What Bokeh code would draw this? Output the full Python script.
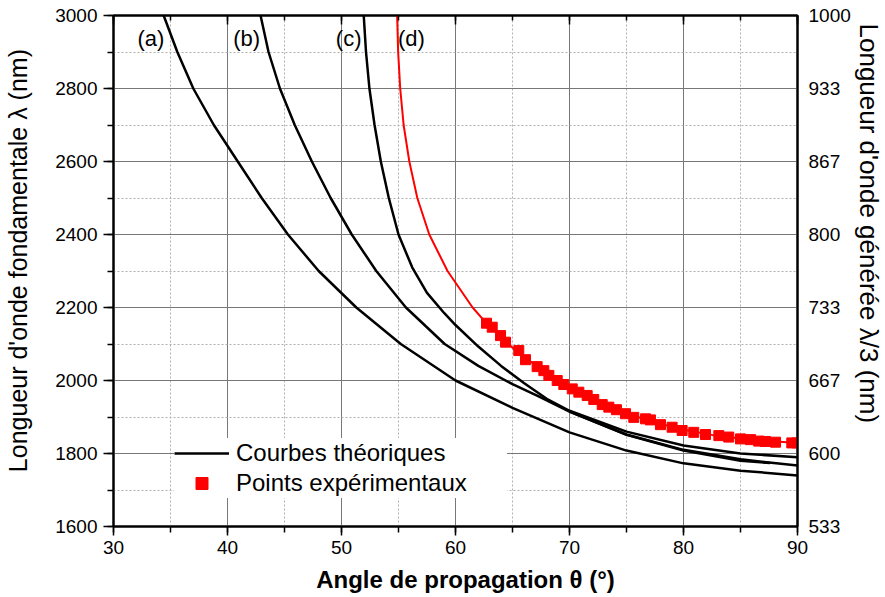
from bokeh.plotting import figure
from bokeh.models import (Range1d, LinearAxis, SingleIntervalTicker, FixedTicker, Title,
                          NumeralTickFormatter, Legend, LegendItem, Grid, CustomJSTickFormatter)
from bokeh.core.properties import value
from bokeh.embed import file_html
from bokeh.resources import INLINE

FONT = "Liberation Sans"
NB = "\u00a0"

# ---- data ----
curve_a_theta = [34.4, 35.6, 37.0, 38.8, 40.9, 43.0, 45.3, 48.0, 51.3, 55.2, 60.0, 65.0, 70.0, 75.0, 80.0, 85.0, 90.0]
curve_a_lambda = [3000, 2900, 2800, 2700, 2600, 2500, 2400, 2300, 2200, 2100, 2000, 1925, 1858, 1808, 1773, 1753, 1740]

curve_b_theta = [42.9, 43.6, 44.6, 45.9, 47.4, 49.05, 50.9, 53.05, 55.65, 59.05, 62.0, 65.0, 67.2, 70.0, 75.0, 80.0, 85.0, 90.0]
curve_b_lambda = [3000, 2900, 2800, 2700, 2600, 2500, 2400, 2300, 2200, 2100, 2040, 1990, 1958, 1915, 1852, 1810, 1784, 1767]

curve_c_theta = [51.95, 52.15, 52.45, 52.9, 53.45, 54.15, 55.0, 56.2, 57.5, 59.0, 60.0, 62.0, 64.0, 66.0, 68.0, 70.0, 75.0, 80.0, 85.0, 90.0]
curve_c_lambda = [3000, 2900, 2800, 2700, 2600, 2500, 2400, 2310, 2240, 2185, 2152, 2093, 2040, 1993, 1950, 1917, 1860, 1822, 1800, 1790]

curve_e_theta = [70.0, 75.0, 80.0, 85.0, 87.6]
curve_e_lambda = [1915, 1851, 1808, 1780, 1774]

curve_d_theta = [54.88, 54.97, 55.15, 55.45, 55.95, 56.65, 57.7, 59.3, 61.5, 62.7, 65.0, 67.5, 70.0, 72.5, 75.0, 77.5, 80.0, 82.5, 85.0, 87.5, 90.0]
curve_d_lambda = [3000, 2900, 2800, 2700, 2600, 2500, 2400, 2300, 2200, 2157, 2090, 2030, 1980, 1942, 1910, 1885, 1865, 1851, 1841, 1834, 1829]

exp_theta = [62.72, 63.22, 63.95, 64.39, 65.55, 66.14, 67.16, 67.75, 68.19, 68.92, 69.5, 70.24, 70.82, 71.55,
             72.13, 72.87, 73.45, 74.12, 74.91, 75.64, 76.67, 77.1, 77.98, 79.0, 79.88, 80.9, 81.93, 83.1,
             83.97, 85.0, 85.88, 86.6, 87.19, 88.07, 89.5, 89.97]
exp_lambda = [2157, 2146, 2123, 2105, 2082, 2057, 2038, 2027, 2014, 2000, 1989, 1977, 1968, 1959,
              1948, 1934, 1927, 1920, 1909, 1899, 1895, 1892, 1879, 1872, 1863, 1858, 1852, 1849,
              1845, 1840, 1838, 1834, 1833, 1831, 1829, 1829]

curve_labels = ["(a)", "(b)", "(c)", "(d)"]
curve_label_theta = [32.1, 40.5, 49.5, 54.95]
curve_label_lambda = [2938, 2938, 2938, 2938]

right_ticks = [1600 / 3 + k * 200 / 3 for k in range(8)]

x_title = "Angle de propagation θ  (°)"
left_title = "Longueur d'onde fondamentale λ (nm)"
right_title = "Longueur d'onde générée λ/3 (nm)"

# ---- figure ----
W, H = 885, 597
BL, BR, BT, BB = 113, 88, 15, 71
p = figure(width=W, height=H, x_range=Range1d(30, 90), y_range=Range1d(1600, 3000),
           output_backend="svg", toolbar_location=None,
           min_border_left=BL, min_border_right=BR, min_border_top=BT, min_border_bottom=BB)
p.extra_y_ranges = {"third": Range1d(1600 / 3, 1000)}

p.outline_line_color = "black"
p.outline_line_width = 2

xt = SingleIntervalTicker(interval=10, num_minor_ticks=2)
yt = SingleIntervalTicker(interval=200, num_minor_ticks=2)
p.xaxis.ticker = xt
p.yaxis.ticker = yt

p.center = [r for r in p.center if not isinstance(r, Grid)]
for dim, tk in ((0, xt), (1, yt)):
    g = Grid(dimension=dim, ticker=tk,
             grid_line_color="#777777", grid_line_width=1, grid_line_alpha=1.0,
             minor_grid_line_color="#b0b0b0", minor_grid_line_dash="2 2",
             minor_grid_line_width=1, minor_grid_line_alpha=1.0)
    p.add_layout(g, "center")

def style_axis(ax):
    ax.axis_line_width = 2
    ax.axis_line_color = "black"
    ax.major_tick_line_width = 1.5
    ax.minor_tick_line_width = 1.5
    ax.major_label_text_font = FONT
    ax.major_label_text_font_size = "19px"
    ax.major_label_text_color = "black"
    ax.axis_label_text_font = FONT
    ax.axis_label_text_font_size = "25px"
    ax.axis_label_text_font_style = "normal"
    ax.axis_label_text_color = "black"

xa = p.xaxis[0]
style_axis(xa)
xa.major_tick_out = 9
xa.major_tick_in = 0
xa.minor_tick_out = 6
xa.minor_tick_in = 0
xa.major_label_standoff = 5
xa.axis_label = NB * 4 + x_title
xa.axis_label_text_font_size = "24px"
xa.axis_label_text_font_style = "bold"
xa.axis_label_standoff = 9

ya = p.yaxis[0]
style_axis(ya)
ya.major_tick_out = 10
ya.major_tick_in = 0
ya.minor_tick_out = 6
ya.minor_tick_in = 0
ya.major_label_standoff = 6
ya.axis_label = NB * 3 + left_title
ya.axis_label_standoff = 20

top = LinearAxis(ticker=xt, formatter=CustomJSTickFormatter(code="return ''"))
style_axis(top)
top.major_label_text_font_size = "1px"
top.major_label_standoff = 0
top.major_tick_out = 0
top.major_tick_in = 9
top.minor_tick_out = 0
top.minor_tick_in = 5
p.add_layout(top, "above")

right = LinearAxis(y_range_name="third", ticker=FixedTicker(ticks=right_ticks),
                   formatter=NumeralTickFormatter(format="0"))
style_axis(right)
right.major_tick_out = 0
right.major_tick_in = 0
right.minor_tick_out = 0
right.minor_tick_in = 0
right.major_label_standoff = 11
p.add_layout(right, "right")

rt = Title(text=right_title, align="left", offset=8, standoff=0,
           text_font=FONT, text_font_size="26px", text_font_style="normal", text_color="black")
p.add_layout(rt, "right")

# ---- glyphs ----
lw = 2.5
ra = p.line(curve_a_theta, curve_a_lambda, line_color="black", line_width=lw)
p.line(curve_b_theta, curve_b_lambda, line_color="black", line_width=lw)
p.line(curve_c_theta, curve_c_lambda, line_color="black", line_width=lw)
p.line(curve_e_theta, curve_e_lambda, line_color="black", line_width=lw)
p.line(curve_d_theta, curve_d_lambda, line_color="#ff0000", line_width=2)
rp = p.scatter(exp_theta, exp_lambda, marker="square", size=10,
               fill_color="#ff0000", line_color="#ff0000")

p.text(x=curve_label_theta, y=curve_label_lambda, text=curve_labels,
       text_font=value(FONT), text_font_size="22px", text_color="black",
       text_align="left", text_baseline="middle")

legend = Legend(items=[LegendItem(label="Courbes théoriques", renderers=[ra]),
                       LegendItem(label="Points expérimentaux", renderers=[rp])],
                location=(61, 28))
legend.border_line_color = None
legend.background_fill_color = "white"
legend.background_fill_alpha = 1.0
legend.label_text_font = FONT
legend.label_text_font_size = "24px"
legend.label_text_color = "black"
legend.glyph_width = 55
legend.glyph_height = 30
legend.label_standoff = 7
legend.label_width = 271
legend.padding = 15
legend.spacing = 0
legend.margin = 0
p.add_layout(legend)

open("out.html", "w").write(file_html(p, INLINE))
